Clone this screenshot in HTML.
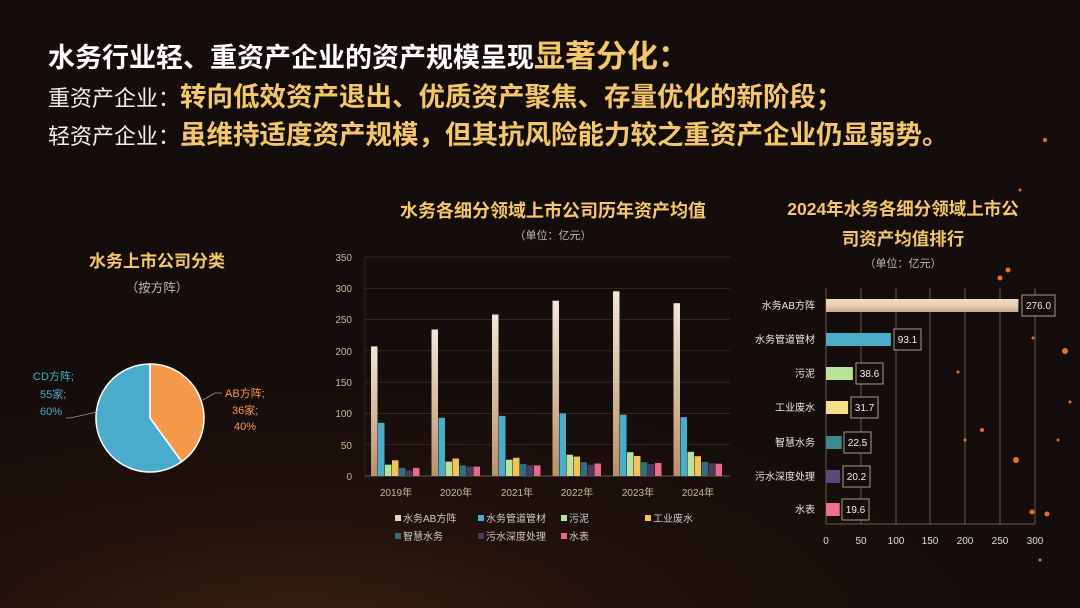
<!DOCTYPE html>
<html><head><meta charset="utf-8"><style>
html,body{margin:0;padding:0}
body{width:1080px;height:608px;overflow:hidden;background:radial-gradient(ellipse 700px 260px at 300px 640px,#3a2010 0%,rgba(40,20,12,0.6) 50%,rgba(0,0,0,0) 100%),#150d0b;font-family:"Liberation Sans","Noto Sans CJK SC",sans-serif;position:relative}
.t{position:absolute;white-space:nowrap}
.g{color:#f2c86a;font-weight:bold;font-size:26.5px}
</style></head><body>
<div class="t" style="left:48px;top:31px;font-size:27px;font-weight:bold;color:#fff">水务行业轻、重资产企业的资产规模呈现<span style="font-size:31px;color:#f2c86a">显著分化：</span></div>
<div class="t" style="left:48px;top:75px;font-size:22px;color:#f0f0f0">重资产企业：<span class="g">转向低效资产退出、优质资产聚焦、存量优化的新阶段；</span></div>
<div class="t" style="left:48px;top:113px;font-size:22px;color:#f0f0f0">轻资产企业：<span class="g">虽维持适度资产规模，但其抗风险能力较之重资产企业仍显弱势。</span></div>
<svg width="1080" height="608" style="position:absolute;left:0;top:0" font-family="Liberation Sans, Noto Sans CJK SC, sans-serif">
<defs>
<linearGradient id="ab" x1="0" y1="0" x2="0" y2="1"><stop offset="0" stop-color="#f3e6d8"/><stop offset="1" stop-color="#b8916a"/></linearGradient>
<linearGradient id="abh" x1="0" y1="0" x2="0" y2="1"><stop offset="0" stop-color="#f0dcc4"/><stop offset="0.5" stop-color="#e8cfb3"/><stop offset="1" stop-color="#c9a887"/></linearGradient>
</defs>
<!-- pie -->
<text x="157" y="267" fill="#f2c86a" font-size="17" font-weight="bold" text-anchor="middle">水务上市公司分类</text>
<text x="157" y="292" fill="#bbb" font-size="12.5" text-anchor="middle">（按方阵）</text>
<path d="M150,418 L150,364 A54,54 0 0 1 181.7,461.7 Z" fill="#f4994a" stroke="#fff" stroke-width="1.5"/>
<path d="M150,418 L181.7,461.7 A54,54 0 1 1 150,364 Z" fill="#4aaccc" stroke="#fff" stroke-width="1.5"/>
<polyline points="203,400 215,393 222,393" fill="none" stroke="#999" stroke-width="0.8"/>
<polyline points="97,412 70,418 66,418" fill="none" stroke="#999" stroke-width="0.8"/>
<text x="225" y="397" fill="#f4994a" font-size="11">AB方阵;</text>
<text x="232" y="414" fill="#f4994a" font-size="11">36家;</text>
<text x="234" y="430" fill="#f4994a" font-size="11">40%</text>
<text x="33" y="380" fill="#4aaccc" font-size="11">CD方阵;</text>
<text x="40" y="398" fill="#4aaccc" font-size="11">55家;</text>
<text x="40" y="415" fill="#4aaccc" font-size="11">60%</text>
<!-- bar chart -->
<text x="553" y="217" fill="#f2c86a" font-size="18" font-weight="bold" text-anchor="middle">水务各细分领域上市公司历年资产均值</text>
<text x="553" y="239" fill="#bbb" font-size="11" text-anchor="middle">（单位：亿元）</text>
<g stroke="#3a302a" stroke-width="0.7">
<line x1="365" y1="257" x2="730" y2="257"/><line x1="365" y1="288.3" x2="730" y2="288.3"/><line x1="365" y1="319.6" x2="730" y2="319.6"/><line x1="365" y1="350.8" x2="730" y2="350.8"/><line x1="365" y1="382.1" x2="730" y2="382.1"/><line x1="365" y1="413.4" x2="730" y2="413.4"/><line x1="365" y1="444.7" x2="730" y2="444.7"/>
<line x1="365" y1="257" x2="365" y2="476"/>
</g>
<line x1="365" y1="476" x2="730" y2="476" stroke="#6a5a4a" stroke-width="1"/>
<g fill="#c9b89a" font-size="10" text-anchor="end">
<text x="352" y="261">350</text><text x="352" y="292">300</text><text x="352" y="323">250</text><text x="352" y="355">200</text><text x="352" y="386">150</text><text x="352" y="417">100</text><text x="352" y="449">50</text><text x="352" y="480">0</text>
</g>
<g fill="#c9b89a" font-size="10" text-anchor="middle">
<text x="396" y="496">2019年</text><text x="456" y="496">2020年</text><text x="517" y="496">2021年</text><text x="577" y="496">2022年</text><text x="638" y="496">2023年</text><text x="698" y="496">2024年</text>
</g>
<g transform="translate(371,0)"><rect x="0" y="346.4" width="6.5" height="129.6" fill="url(#ab)"/><rect x="7" y="422.8" width="6.5" height="53.2" fill="#4aaecb"/><rect x="14" y="464.7" width="6.5" height="11.3" fill="#b9e39a"/><rect x="21" y="460.3" width="6.5" height="15.7" fill="#f3c25a"/><rect x="28" y="467.9" width="6.5" height="8.1" fill="#2f6f7f"/><rect x="35" y="470.4" width="6.5" height="5.6" fill="#4a3b5a"/><rect x="42" y="467.9" width="6.5" height="8.1" fill="#e86a8a"/></g>
<g transform="translate(431.5,0)"><rect x="0" y="329.5" width="6.5" height="146.5" fill="url(#ab)"/><rect x="7" y="417.8" width="6.5" height="58.2" fill="#4aaecb"/><rect x="14" y="461.6" width="6.5" height="14.4" fill="#b9e39a"/><rect x="21" y="458.5" width="6.5" height="17.5" fill="#f3c25a"/><rect x="28" y="465.4" width="6.5" height="10.6" fill="#2f6f7f"/><rect x="35" y="466.6" width="6.5" height="9.4" fill="#4a3b5a"/><rect x="42" y="466.6" width="6.5" height="9.4" fill="#e86a8a"/></g>
<g transform="translate(492,0)"><rect x="0" y="314.5" width="6.5" height="161.5" fill="url(#ab)"/><rect x="7" y="415.9" width="6.5" height="60.1" fill="#4aaecb"/><rect x="14" y="459.7" width="6.5" height="16.3" fill="#b9e39a"/><rect x="21" y="457.8" width="6.5" height="18.2" fill="#f3c25a"/><rect x="28" y="464.1" width="6.5" height="11.9" fill="#2f6f7f"/><rect x="35" y="465.4" width="6.5" height="10.6" fill="#4a3b5a"/><rect x="42" y="465.4" width="6.5" height="10.6" fill="#e86a8a"/></g>
<g transform="translate(552.5,0)"><rect x="0" y="300.7" width="6.5" height="175.3" fill="url(#ab)"/><rect x="7" y="413.4" width="6.5" height="62.6" fill="#4aaecb"/><rect x="14" y="454.7" width="6.5" height="21.3" fill="#b9e39a"/><rect x="21" y="456.6" width="6.5" height="19.4" fill="#f3c25a"/><rect x="28" y="462.2" width="6.5" height="13.8" fill="#2f6f7f"/><rect x="35" y="464.7" width="6.5" height="11.3" fill="#4a3b5a"/><rect x="42" y="463.5" width="6.5" height="12.5" fill="#e86a8a"/></g>
<g transform="translate(613,0)"><rect x="0" y="291.3" width="6.5" height="184.7" fill="url(#ab)"/><rect x="7" y="414.7" width="6.5" height="61.3" fill="#4aaecb"/><rect x="14" y="452.2" width="6.5" height="23.8" fill="#b9e39a"/><rect x="21" y="456" width="6.5" height="20" fill="#f3c25a"/><rect x="28" y="462.2" width="6.5" height="13.8" fill="#2f6f7f"/><rect x="35" y="464.1" width="6.5" height="11.9" fill="#4a3b5a"/><rect x="42" y="462.9" width="6.5" height="13.1" fill="#e86a8a"/></g>
<g transform="translate(673.5,0)"><rect x="0" y="303.2" width="6.5" height="172.8" fill="url(#ab)"/><rect x="7" y="417.2" width="6.5" height="58.8" fill="#4aaecb"/><rect x="14" y="451.8" width="6.5" height="24.2" fill="#b9e39a"/><rect x="21" y="456.2" width="6.5" height="19.8" fill="#f3c25a"/><rect x="28" y="461.9" width="6.5" height="14.1" fill="#2f6f7f"/><rect x="35" y="463.4" width="6.5" height="12.6" fill="#4a3b5a"/><rect x="42" y="463.7" width="6.5" height="12.3" fill="#e86a8a"/></g>
<!-- legend -->
<g font-size="10" fill="#ccc">
<rect x="395" y="515" width="6" height="6" fill="#e8d6c4"/><text x="403" y="522">水务AB方阵</text>
<rect x="478" y="515" width="6" height="6" fill="#4aaecb"/><text x="486" y="522">水务管道管材</text>
<rect x="561" y="515" width="6" height="6" fill="#b9e39a"/><text x="569" y="522">污泥</text>
<rect x="645" y="515" width="6" height="6" fill="#f3c25a"/><text x="653" y="522">工业废水</text>
<rect x="395" y="533" width="6" height="6" fill="#2f6f7f"/><text x="403" y="540">智慧水务</text>
<rect x="478" y="533" width="6" height="6" fill="#4a3b5a"/><text x="486" y="540">污水深度处理</text>
<rect x="561" y="533" width="6" height="6" fill="#e86a8a"/><text x="569" y="540">水表</text>
</g>
<!-- ranking chart -->
<text x="903" y="215" fill="#f2c86a" font-size="17.5" font-weight="bold" text-anchor="middle">2024年水务各细分领域上市公</text>
<text x="903" y="245" fill="#f2c86a" font-size="17.5" font-weight="bold" text-anchor="middle">司资产均值排行</text>
<text x="903" y="267" fill="#bbb" font-size="11" text-anchor="middle">（单位：亿元）</text>
<g stroke="#8a7a62" stroke-width="0.7">
<line x1="826" y1="288" x2="826" y2="524"/><line x1="861" y1="288" x2="861" y2="524"/><line x1="896" y1="288" x2="896" y2="524"/><line x1="930" y1="288" x2="930" y2="524"/><line x1="965" y1="288" x2="965" y2="524"/><line x1="1000" y1="288" x2="1000" y2="524"/><line x1="1035" y1="288" x2="1035" y2="524"/>
<line x1="826" y1="524" x2="1035" y2="524"/>
</g>
<g fill="#ddd" font-size="10" text-anchor="middle">
<text x="826" y="544">0</text><text x="861" y="544">50</text><text x="896" y="544">100</text><text x="930" y="544">150</text><text x="965" y="544">200</text><text x="1000" y="544">250</text><text x="1035" y="544">300</text>
</g>
<g fill="#e8e8e8" font-size="10" text-anchor="end">
<text x="815" y="309">水务AB方阵</text><text x="815" y="343">水务管道管材</text><text x="815" y="377">污泥</text><text x="815" y="411">工业废水</text><text x="815" y="446">智慧水务</text><text x="815" y="480">污水深度处理</text><text x="815" y="513">水表</text>
</g>
<rect x="826" y="299" width="192.4" height="13" fill="url(#abh)"/>
<rect x="826" y="333" width="64.9" height="13" fill="#4aaecb"/>
<rect x="826" y="367" width="26.9" height="13" fill="#b9e39a"/>
<rect x="826" y="401" width="22.1" height="13" fill="#f3e08a"/>
<rect x="826" y="436" width="15.7" height="13" fill="#3f8a8a"/>
<rect x="826" y="470" width="14.1" height="13" fill="#5a4a7a"/>
<rect x="826" y="503" width="13.7" height="13" fill="#f07090"/>
<g fill="#150d0b" stroke="#a89a88" stroke-width="1">
<rect x="1022" y="295" width="33" height="21"/><rect x="894" y="329" width="27" height="21"/><rect x="856" y="363" width="27" height="21"/><rect x="851" y="397" width="27" height="21"/><rect x="844" y="432" width="27" height="21"/><rect x="843" y="466" width="27" height="21"/><rect x="842" y="499" width="27" height="21"/>
</g>
<g fill="#eee" font-size="10" text-anchor="middle">
<text x="1038.5" y="309">276.0</text><text x="907.5" y="343">93.1</text><text x="869.5" y="377">38.6</text><text x="864.5" y="411">31.7</text><text x="857.5" y="446">22.5</text><text x="856.5" y="480">20.2</text><text x="855.5" y="513">19.6</text>
</g>
<!-- sparks -->
<g fill="#e8712a">
<circle cx="1008" cy="270" r="2.5"/><circle cx="1000" cy="278" r="2.5"/><circle cx="1065" cy="351" r="3"/><circle cx="1033" cy="338" r="1.5"/><circle cx="1070" cy="402" r="1.5"/><circle cx="982" cy="430" r="2"/><circle cx="1016" cy="460" r="3"/><circle cx="1032" cy="512" r="2.5"/><circle cx="1047" cy="514" r="2.5"/><circle cx="1045" cy="140" r="2"/><circle cx="1020" cy="190" r="1.5"/><circle cx="1058" cy="440" r="1.5"/><circle cx="1040" cy="560" r="1.5"/><circle cx="965" cy="440" r="1.5"/><circle cx="958" cy="372" r="1.5"/>
</g>
</svg>
</body></html>
